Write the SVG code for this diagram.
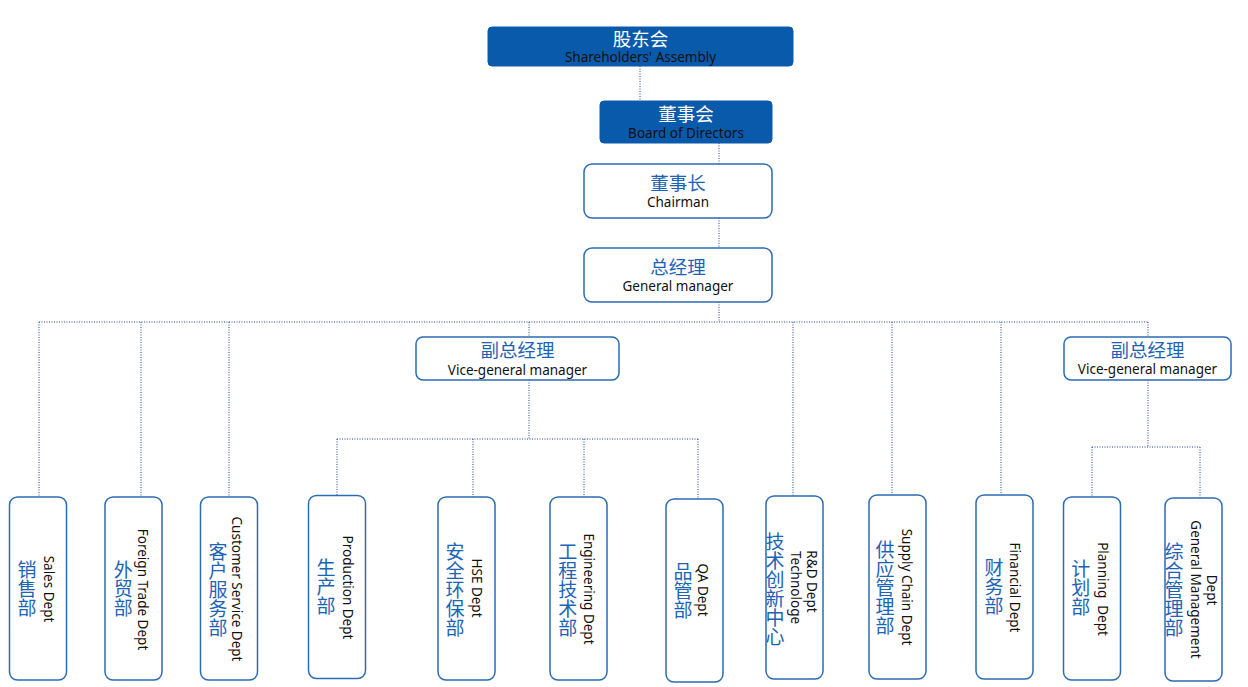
<svg xmlns="http://www.w3.org/2000/svg" width="1248" height="687" viewBox="0 0 1248 687">
<style>
.dark{fill:#0a5aab;stroke:#0a5aab;stroke-width:1}
.box{fill:#fff;stroke:#2b6cb3;stroke-width:1.5}
.cn{font-family:"Noto Sans CJK SC",sans-serif;font-size:18.5px;fill:#1d63b5;text-anchor:middle}
.cnw{font-family:"Noto Sans CJK SC",sans-serif;font-size:18.5px;fill:#fff;text-anchor:middle}
.en{font-family:"Noto Sans",sans-serif;font-size:13.5px;fill:#111;text-anchor:middle}
.vcn{font-family:"Noto Sans CJK SC",sans-serif;font-size:19px;fill:#1d63b5;text-anchor:middle}
.ven{font-family:"Noto Sans",sans-serif;font-size:13.5px;fill:#111;text-anchor:middle;white-space:pre}
.ln{fill:none;stroke:#27449a;stroke-width:1;stroke-dasharray:1 1.5}
</style>
<g id="connectors">
<path class="ln" d="M640 66V101M719 143V164M719 218V248M719 302V322M39 322H1148M39 322V497M141 322V497M229 322V497M529 322V337M793 322V496M892 322V495M1001 322V495M1148 322V337"/>
<path class="ln" d="M529 380V439M337 439H698M337 439V495M473 439V497M584 439V497M698 439V499"/>
<path class="ln" d="M1148 380V447M1092 447H1200M1092 447V497M1200 447V498"/>
</g>
<g id="n-shareholders">
<rect class="dark" x="488" y="27" width="305" height="39" rx="4"/>
<text class="cnw" x="640.5" y="45.5">股东会</text>
<text class="en" x="640.5" y="62">Shareholders' Assembly</text>
</g>
<g id="n-board">
<rect class="dark" x="600" y="101" width="172" height="42" rx="4"/>
<text class="cnw" x="686" y="121">董事会</text>
<text class="en" x="686" y="138">Board of Directors</text>
</g>
<g id="n-chairman">
<rect class="box" x="584" y="164" width="188" height="54" rx="8"/>
<text class="cn" x="678" y="190">董事长</text>
<text class="en" x="678" y="207">Chairman</text>
</g>
<g id="n-gm">
<rect class="box" x="584" y="248" width="188" height="54" rx="8"/>
<text class="cn" x="678" y="274">总经理</text>
<text class="en" x="678" y="291">General manager</text>
</g>
<g id="n-vgm1">
<rect class="box" x="416" y="337" width="203" height="43" rx="7"/>
<text class="cn" x="517.5" y="357">副总经理</text>
<text class="en" x="517.5" y="374.5">Vice-general manager</text>
</g>
<g id="n-vgm2">
<rect class="box" x="1064" y="337" width="167" height="43" rx="7"/>
<text class="cn" x="1147.5" y="357">副总经理</text>
<text class="en" x="1147.5" y="373.5">Vice-general manager</text>
</g>
<g id="n-sales">
<rect class="box" x="9.5" y="497" width="57" height="183" rx="8"/>
<text class="vcn"><tspan x="27" y="576.5">销</tspan><tspan x="27" dy="19">售</tspan><tspan x="27" dy="19">部</tspan></text>
<text class="ven" transform="translate(44 589) rotate(90)">Sales Dept</text>
</g>
<g id="n-foreign">
<rect class="box" x="105" y="497" width="57" height="183" rx="8"/>
<text class="vcn"><tspan x="123.3" y="576.5">外</tspan><tspan x="123.3" dy="19">贸</tspan><tspan x="123.3" dy="19">部</tspan></text>
<text class="ven" transform="translate(138.2 589.5) rotate(90)">Foreign Trade Dept</text>
</g>
<g id="n-customer">
<rect class="box" x="200.5" y="497" width="57" height="183" rx="8"/>
<text class="vcn"><tspan x="218" y="558.5">客</tspan><tspan x="218" dy="19">户</tspan><tspan x="218" dy="19">服</tspan><tspan x="218" dy="19">务</tspan><tspan x="218" dy="19">部</tspan></text>
<text class="ven" transform="translate(232.2 589) rotate(90)">Customer Service Dept</text>
</g>
<g id="n-production">
<rect class="box" x="308.5" y="495.5" width="57" height="183" rx="8"/>
<text class="vcn"><tspan x="326" y="574.5">生</tspan><tspan x="326" dy="19">产</tspan><tspan x="326" dy="19">部</tspan></text>
<text class="ven" transform="translate(343 587.5) rotate(90)">Production Dept</text>
</g>
<g id="n-hse">
<rect class="box" x="438" y="497" width="57" height="183" rx="8"/>
<text class="vcn"><tspan x="455" y="558.5">安</tspan><tspan x="455" dy="19">全</tspan><tspan x="455" dy="19">环</tspan><tspan x="455" dy="19">保</tspan><tspan x="455" dy="19">部</tspan></text>
<text class="ven" transform="translate(472 588) rotate(90)">HSE Dept</text>
</g>
<g id="n-engineering">
<rect class="box" x="550" y="497" width="57" height="183" rx="8"/>
<text class="vcn"><tspan x="567.7" y="558.5">工</tspan><tspan x="567.7" dy="19">程</tspan><tspan x="567.7" dy="19">技</tspan><tspan x="567.7" dy="19">术</tspan><tspan x="567.7" dy="19">部</tspan></text>
<text class="ven" transform="translate(584.3 589) rotate(90)">Engineering Dept</text>
</g>
<g id="n-qa">
<rect class="box" x="666" y="499" width="57" height="183" rx="8"/>
<text class="vcn"><tspan x="683" y="578.5">品</tspan><tspan x="683" dy="19">管</tspan><tspan x="683" dy="19">部</tspan></text>
<text class="ven" transform="translate(698.3 590) rotate(90)">QA Dept</text>
</g>
<g id="n-rd">
<rect class="box" x="766" y="496" width="57" height="183" rx="8"/>
<text class="vcn"><tspan x="775" y="548.5">技</tspan><tspan x="775" dy="19">术</tspan><tspan x="775" dy="19">创</tspan><tspan x="775" dy="19">新</tspan><tspan x="775" dy="19">中</tspan><tspan x="775" dy="19">心</tspan></text>
<text class="ven" transform="translate(807.3 581.5) rotate(90)">R&amp;D Dept</text>
<text class="ven" transform="translate(791 587.5) rotate(90)">Technologe</text>
</g>
<g id="n-supply">
<rect class="box" x="869" y="495" width="57" height="184" rx="8"/>
<text class="vcn"><tspan x="885" y="556.5">供</tspan><tspan x="885" dy="19">应</tspan><tspan x="885" dy="19">管</tspan><tspan x="885" dy="19">理</tspan><tspan x="885" dy="19">部</tspan></text>
<text class="ven" transform="translate(902.3 587) rotate(90)">Supply Chain Dept</text>
</g>
<g id="n-financial">
<rect class="box" x="976" y="495" width="57" height="184" rx="8"/>
<text class="vcn"><tspan x="994" y="574.5">财</tspan><tspan x="994" dy="19">务</tspan><tspan x="994" dy="19">部</tspan></text>
<text class="ven" transform="translate(1010.3 587.5) rotate(90)">Financial Dept</text>
</g>
<g id="n-planning">
<rect class="box" x="1063.5" y="497" width="57" height="183" rx="8"/>
<text class="vcn"><tspan x="1080.7" y="575.5">计</tspan><tspan x="1080.7" dy="19">划</tspan><tspan x="1080.7" dy="19">部</tspan></text>
<text class="ven" transform="translate(1098 589) rotate(90)">Planning  Dept</text>
</g>
<g id="n-general">
<rect class="box" x="1165" y="498" width="57" height="183" rx="8"/>
<text class="vcn"><tspan x="1174" y="558.5">综</tspan><tspan x="1174" dy="19">合</tspan><tspan x="1174" dy="19">管</tspan><tspan x="1174" dy="19">理</tspan><tspan x="1174" dy="19">部</tspan></text>
<text class="ven" transform="translate(1191 589.5) rotate(90)">General Management</text>
<text class="ven" transform="translate(1207 590) rotate(90)">Dept</text>
</g>
</svg>
